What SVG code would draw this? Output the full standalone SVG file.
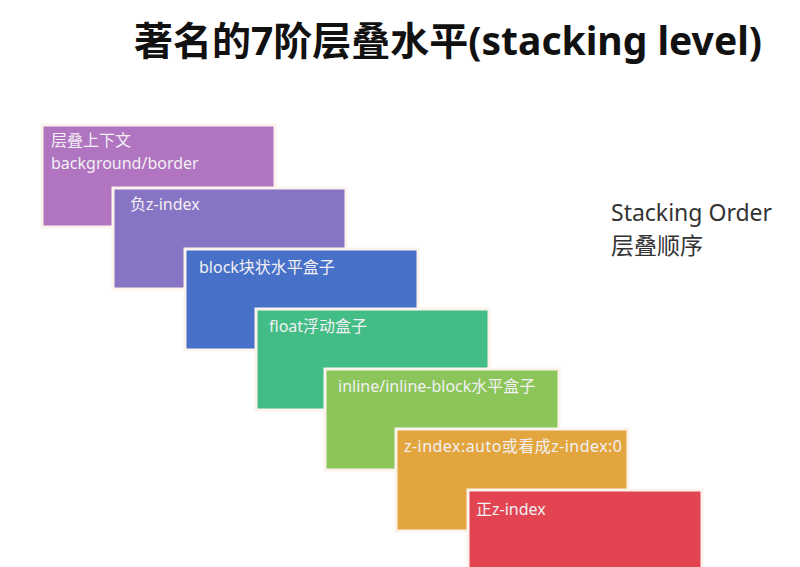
<svg xmlns="http://www.w3.org/2000/svg" width="800" height="567" viewBox="0 0 800 567">
<style>
.b{stroke:#fbf3ec;stroke-width:3}
.t{font-family:"Noto Sans","Noto Sans CJK SC",sans-serif;font-size:16px;fill:#f2f0f4}
.h{font-family:"Noto Sans","Noto Sans CJK SC",sans-serif;font-size:39px;font-weight:bold;fill:#111}
.s{font-family:"Noto Sans","Noto Sans CJK SC",sans-serif;font-size:23px;fill:#333}
</style>
<rect width="800" height="567" fill="#fff"/>
<text class="h" x="448" y="55" text-anchor="middle">著名的7阶层叠水平(stacking level)</text>
<text class="s" x="611" y="221">Stacking Order</text>
<text class="s" x="611" y="254">层叠顺序</text>
<g id="n1"><rect class="b" x="42" y="125" width="233" height="102" fill="#b174c1"/><text class="t" x="51" y="146">层叠上下文</text><text class="t" x="51" y="169">background/border</text></g>
<g id="n2"><rect class="b" x="113" y="188" width="233" height="101" fill="#8774c4"/><text class="t" x="130" y="210">负z-index</text></g>
<g id="n3"><rect class="b" x="185" y="249" width="233" height="101" fill="#4770c9"/><text class="t" x="199" y="273">block块状水平盒子</text></g>
<g id="n4"><rect class="b" x="256" y="309" width="233" height="101" fill="#42bd86"/><text class="t" x="269" y="332">float浮动盒子</text></g>
<g id="n5"><rect class="b" x="325" y="369" width="234" height="101" fill="#8cc65a"/><text class="t" x="338" y="392">inline/inline-block水平盒子</text></g>
<g id="n6"><rect class="b" x="396" y="429" width="232" height="102" fill="#e3a63e"/><text class="t" x="404" y="452" textLength="218">z-index:auto或看成z-index:0</text></g>
<g id="n7"><rect class="b" x="468" y="490" width="234" height="80" fill="#e24452"/><text class="t" x="476" y="515">正z-index</text></g>
<g id="connectors"/>
</svg>
